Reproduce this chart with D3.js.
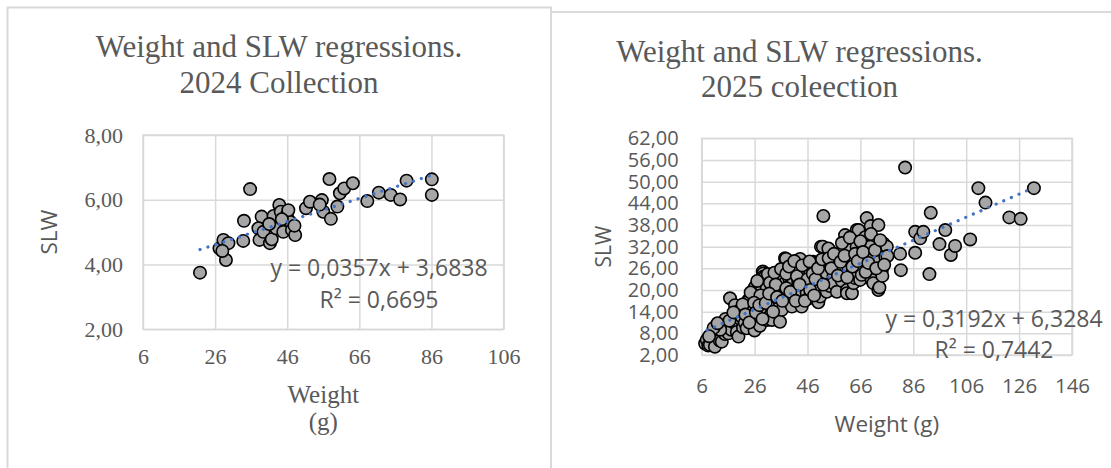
<!DOCTYPE html>
<html>
<head>
<meta charset="utf-8">
<script src="https://cdn.jsdelivr.net/npm/d3@7"></script>
<style>
  html, body { margin: 0; padding: 0; background: #fff; }
  svg { display: block; }
</style>
</head>
<body>
<div id="chart"></div>
<script>
// Two Excel-style scatter panels: SLW vs weight, with linear trendline and equation.

const xTicks2024 = [6, 26, 46, 66, 86, 106];
const yTicks2024 = [2, 4, 6, 8];
const xTicks2025 = [6, 26, 46, 66, 86, 106, 126, 146];
const yTicks2025 = [2, 8, 14, 20, 26, 32, 38, 44, 50, 56, 62];

// [weight, SLW]
const points2024 = [
  [21.8, 3.75], [27.2, 4.5], [28.3, 4.76], [29.0, 4.14], [29.7, 4.66], [28.0, 4.42],
  [34.0, 5.35], [33.8, 4.73], [35.7, 6.33], [38.9, 5.48], [38.0, 5.12], [38.3, 4.76],
  [39.4, 5.01], [41.2, 4.66], [41.7, 4.78], [42.2, 5.5], [42.9, 5.12], [43.8, 5.84],
  [44.2, 5.63], [44.9, 5.01], [45.9, 5.53], [46.8, 5.32], [47.3, 5.07], [48.2, 4.91],
  [46.3, 5.68], [41.0, 5.25], [44.5, 5.4], [51.2, 5.74], [52.3, 5.94], [55.6, 5.99],
  [56.0, 5.63], [57.7, 6.64], [58.1, 5.41], [59.9, 5.79], [60.6, 6.2], [61.8, 6.35],
  [64.2, 6.51], [68.2, 5.96], [71.4, 6.22], [74.7, 6.15], [77.3, 6.01], [79.1, 6.59],
  [86.1, 6.63], [86.1, 6.15], [55.0, 5.85], [48.0, 5.2]
];

const points2025 = [
  [7.3, 5.2], [7.9, 6.2], [8.5, 4.6], [9.1, 4.8], [9.8, 8.0], [10.2, 6.8], [11.0, 4.3],
  [11.5, 7.4], [12.3, 8.5], [12.8, 6.0], [13.6, 5.7], [14.2, 9.8], [14.8, 7.8], [15.5, 10.2],
  [16.1, 8.0], [16.7, 17.7], [17.2, 9.0], [17.9, 11.2], [18.6, 15.8], [18.6, 10.8], [19.3, 8.4],
  [19.9, 7.1], [20.5, 12.0], [21.1, 12.6], [21.6, 9.6], [22.3, 10.9], [23.0, 9.4], [23.6, 17.2],
  [23.6, 16.8], [24.2, 13.5], [24.9, 14.5], [25.5, 20.0], [25.3, 11.8], [26.2, 20.9], [26.0, 8.8],
  [26.8, 15.2], [27.4, 12.6], [28.0, 10.1], [28.7, 17.2], [28.7, 20.0], [29.1, 25.1], [29.3, 24.6],
  [29.3, 23.7], [29.6, 13.6], [30.0, 23.7], [30.6, 20.5], [30.6, 17.7], [30.6, 14.5], [30.6, 11.7],
  [31.4, 16.0], [32.0, 13.0], [32.5, 20.9], [32.5, 11.7], [33.1, 18.8], [33.7, 17.2], [34.2, 15.5],
  [35.0, 23.7], [35.0, 20.0], [35.6, 23.7], [35.6, 19.5], [35.6, 16.3], [35.6, 11.2], [36.3, 14.5],
  [36.8, 21.2], [37.5, 28.8], [37.5, 21.9], [37.5, 18.2], [37.9, 28.6], [38.5, 16.9], [39.2, 23.0],
  [40.1, 21.9], [40.1, 18.2], [40.1, 15.4], [40.7, 22.3], [41.3, 25.5], [41.9, 25.5],
  [42.5, 22.3], [42.9, 19.8], [43.2, 28.6], [43.2, 16.3], [43.8, 19.1], [43.8, 15.4], [44.5, 24.0],
  [45.1, 21.0], [45.7, 25.1], [45.7, 19.1], [46.3, 17.6], [47.0, 25.1], [47.5, 22.2], [48.2, 27.8],
  [48.9, 27.4], [49.5, 20.6], [50.1, 16.6], [50.8, 22.8], [50.8, 18.2], [51.1, 32.0], [51.8, 32.0],
  [52.0, 40.5], [52.6, 24.1], [53.3, 26.6], [53.3, 24.6], [53.3, 19.5], [53.9, 31.5], [54.5, 21.1],
  [55.8, 23.7], [55.8, 21.9], [56.4, 27.3], [57.1, 29.2], [57.1, 19.5], [58.3, 25.5], [58.9, 22.6],
  [59.6, 31.5], [60.2, 35.2], [60.9, 20.0], [60.9, 19.1], [61.5, 26.2], [62.1, 28.3],
  [62.1, 31.1], [62.8, 24.6], [62.8, 19.1], [63.4, 28.3], [63.4, 21.9], [64.0, 23.3], [64.6, 36.6],
  [64.6, 32.0], [65.3, 36.6], [65.9, 22.8], [66.5, 24.2], [67.1, 27.0], [67.8, 34.6],
  [68.4, 39.9], [69.0, 31.8], [69.7, 32.0], [69.9, 37.7], [70.3, 22.8], [70.9, 28.8], [70.9, 21.9],
  [72.8, 38.0], [72.8, 20.0], [73.2, 28.3], [73.2, 20.7], [74.1, 25.5], [74.3, 23.9],
  [74.7, 32.9], [75.4, 29.2], [76.0, 32.0], [76.2, 29.4], [81.0, 30.0], [81.3, 25.5],
  [82.9, 53.9], [86.7, 36.1], [86.7, 30.3], [88.6, 34.3], [89.8, 36.1], [92.1, 24.4], [92.6, 41.4],
  [95.9, 32.7], [98.1, 36.6], [100.2, 29.7], [101.8, 32.2], [107.5, 34.0], [110.6, 48.2],
  [113.3, 44.2], [122.3, 40.1], [126.6, 39.7], [131.6, 48.2],
  [24.5, 19.3], [27.0, 22.5], [28.2, 18.5], [31.0, 24.4], [31.8, 22.0], [33.5, 24.8], [34.0, 21.5],
  [36.0, 25.8], [38.0, 24.5], [39.0, 26.5], [41.0, 28.0], [42.0, 23.8], [44.0, 26.8], [46.0, 23.0],
  [46.8, 27.9], [48.0, 24.5], [49.0, 23.0], [50.0, 26.0], [51.5, 28.5], [52.0, 21.5], [54.0, 28.8],
  [55.0, 26.0], [56.0, 30.0], [57.5, 24.0], [58.5, 27.8], [59.0, 33.0], [60.0, 29.5], [61.0, 23.5],
  [62.0, 34.5], [63.0, 26.5], [64.0, 30.0], [65.0, 28.0], [66.0, 33.5], [67.0, 30.5], [68.0, 25.0],
  [69.0, 27.5], [70.0, 35.5], [71.5, 31.0], [72.0, 26.0], [73.5, 33.8], [75.0, 27.0], [20.0, 14.2],
  [21.5, 16.0], [22.5, 13.2], [24.0, 11.0], [25.8, 16.5], [26.5, 13.8], [27.8, 15.8], [29.0, 12.0],
  [30.2, 16.4], [31.5, 19.0], [33.0, 14.0], [34.5, 18.0], [36.5, 17.0], [38.0, 20.5], [39.5, 19.5],
  [41.5, 17.0], [43.0, 21.5], [45.0, 17.0], [47.0, 20.0], [48.5, 18.5], [15.0, 12.0], [16.5, 11.5],
  [13.0, 9.0], [10.5, 9.5], [8.8, 7.2], [18.0, 13.8], [12.0, 10.8]
];

const trend2024 = { slope: 0.0357, intercept: 3.6838, from: 21.8, to: 86.1 };
const trend2025 = { slope: 0.3192, intercept: 6.3284, from: 8.0, to: 131.6 };

const W = 1111, H = 468;
const TEXT = "#595959", GRID = "#d9d9d9";
const SERIF = "'Liberation Serif', 'Times New Roman', serif";
const SANS = "'Open Sans', 'Noto Sans', sans-serif";
const comma = (d) => d3.format(".2f")(d).replace(".", ",");

const svg = d3.select("#chart").append("svg")
  .attr("width", W).attr("height", H).attr("viewBox", `0 0 ${W} ${H}`);

// chart frames
svg.append("path")
  .attr("d", "M7.5,470 V7.5 H551 V470")
  .attr("fill", "none").attr("stroke", GRID).attr("stroke-width", 2);
svg.append("path")
  .attr("d", "M551,12 H1112")
  .attr("fill", "none").attr("stroke", GRID).attr("stroke-width", 2);

function panel(opt) {
  const x = d3.scaleLinear().domain(d3.extent(opt.xTicks)).range(opt.xRange);
  const y = d3.scaleLinear().domain(d3.extent(opt.yTicks)).range(opt.yRange);
  const g = svg.append("g");
  const [x0, x1] = opt.xRange, [y0, y1] = opt.yRange;

  g.append("g")
    .attr("transform", `translate(${x0},0)`)
    .call(d3.axisLeft(y).tickValues(opt.yTicks).tickFormat(comma)
      .tickSize(-(x1 - x0)).tickPadding(opt.yPad))
    .call((a) => a.select(".domain").remove())
    .call((a) => a.selectAll(".tick line").attr("stroke", GRID).attr("stroke-width", 1.5))
    .call((a) => a.selectAll(".tick text").attr("fill", TEXT)
      .attr("font-family", opt.tickFont).attr("font-size", opt.yTickSize || opt.tickSize));

  g.append("g")
    .attr("transform", `translate(0,${y0})`)
    .call(d3.axisBottom(x).tickValues(opt.xTicks)
      .tickSize(-(y0 - y1)).tickPadding(opt.xPad))
    .call((a) => a.select(".domain").remove())
    .call((a) => a.selectAll(".tick line").attr("stroke", GRID).attr("stroke-width", 1.5))
    .call((a) => a.selectAll(".tick text").attr("fill", TEXT)
      .attr("font-family", opt.tickFont).attr("font-size", opt.tickSize));

  g.append("rect")
    .attr("x", x0).attr("y", y1).attr("width", x1 - x0).attr("height", y0 - y1)
    .attr("fill", "none").attr("stroke", GRID).attr("stroke-width", 1.5);

  // points
  g.append("g").selectAll("circle")
    .data(opt.points)
    .join("circle")
    .attr("cx", (d) => x(d[0]))
    .attr("cy", (d) => y(d[1]))
    .attr("r", 6.2)
    .attr("fill", "#a6a6a6")
    .attr("stroke", "#000")
    .attr("stroke-width", 1.6);

  // linear trendline, dotted
  const t = opt.trend;
  g.append("path")
    .datum([t.from, t.to])
    .attr("d", d3.line().x((d) => x(d)).y((d) => y(t.slope * d + t.intercept)))
    .attr("fill", "none")
    .attr("stroke", "#4472c4")
    .attr("stroke-width", 3.2)
    .attr("stroke-linecap", "round")
    .attr("stroke-dasharray", "0.1 8.2");

  // equation
  const eq = g.append("g").attr("fill", TEXT).attr("font-family", SANS)
    .attr("font-size", 23).attr("text-anchor", "middle");
  eq.append("text").attr("x", opt.eqX).attr("y", opt.eqY[0]).text(opt.eq[0]);
  eq.append("text").attr("x", opt.eqX).attr("y", opt.eqY[1]).text(opt.eq[1]);

  // title
  const ti = g.append("g").attr("fill", TEXT).attr("font-family", SERIF)
    .attr("font-size", 31).attr("text-anchor", "middle");
  opt.title.forEach((s, i) =>
    ti.append("text").attr("x", opt.titleX).attr("y", opt.titleY[i]).text(s));

  // y axis title
  g.append("text")
    .attr("transform", `translate(${opt.yTitleX},${(y0 + y1) / 2}) rotate(-90)`)
    .attr("text-anchor", "middle")
    .attr("fill", TEXT).attr("font-family", SANS).attr("font-size", opt.yTitleSize)
    .text("SLW");

  // x axis title
  const xt = g.append("g").attr("fill", TEXT).attr("font-family", opt.xTitleFont)
    .attr("font-size", opt.xTitleSize).attr("text-anchor", "middle");
  opt.xTitle.forEach((s, i) =>
    xt.append("text").attr("x", (x0 + x1) / 2).attr("y", opt.xTitleY[i]).text(s));
}

panel({
  points: points2024, trend: trend2024,
  xTicks: xTicks2024, yTicks: yTicks2024,
  xRange: [143, 503.6], yRange: [329.3, 135],
  tickFont: SERIF, tickSize: 22, yPad: 20, xPad: 19,
  eq: ["y = 0,0357x + 3,6838", "R² = 0,6695"], eqX: 379, eqY: [276, 308],
  title: ["Weight and SLW regressions.", "2024 Collection"], titleX: 279, titleY: [57, 93],
  yTitleX: 57, yTitleSize: 22.5,
  xTitle: ["Weight", "(g)"], xTitleFont: SERIF, xTitleSize: 25, xTitleY: [403, 430]
});

panel({
  points: points2025, trend: trend2025,
  xTicks: xTicks2025, yTicks: yTicks2025,
  xRange: [701.7, 1072], yRange: [355, 138.3],
  tickFont: SANS, tickSize: 20.5, yTickSize: 20, yPad: 23, xPad: 23,
  eq: ["y = 0,3192x + 6,3284", "R² = 0,7442"], eqX: 994, eqY: [327, 358],
  title: ["Weight and SLW regressions.", "2025 coleection"], titleX: 799.5, titleY: [62, 97],
  yTitleX: 611, yTitleSize: 21,
  xTitle: ["Weight (g)"], xTitleFont: SANS, xTitleSize: 22.5, xTitleY: [432]
});
</script>
</body>
</html>
